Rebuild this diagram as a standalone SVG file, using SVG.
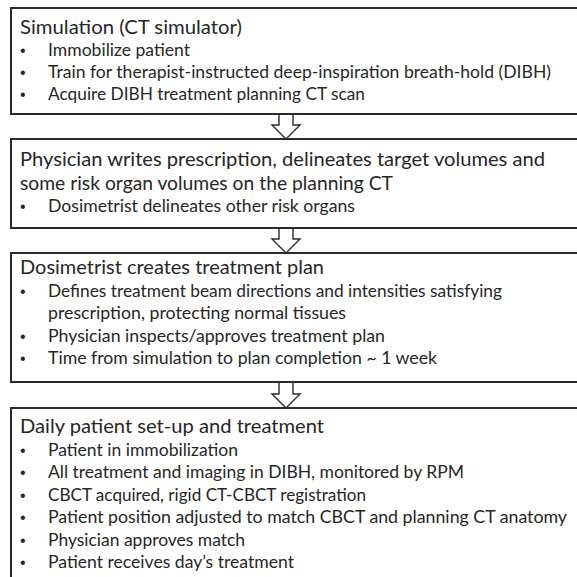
<svg xmlns="http://www.w3.org/2000/svg" width="577" height="577" viewBox="0 0 577 577">
<style>
.box{fill:#fff;stroke:#2b2b2b;stroke-width:2}
.arr{fill:#fff;stroke:#2b2b2b;stroke-width:1.4;stroke-linejoin:miter}
.h{font-family:Lato,"Liberation Sans",sans-serif;font-size:20px;fill:#262626}
.t{font-family:Lato,"Liberation Sans",sans-serif;font-size:17px;fill:#262626}
.b{font-family:"Liberation Sans",sans-serif;font-size:16px;fill:#262626}
</style>
<rect width="577" height="577" fill="#fff"/>
<g id="connectors">
<polygon class="arr" points="279,114 293,114 293,125 300,125 286,139 272,125 279,125"/>
<polygon class="arr" points="279,228 293,228 293,239 300,239 286,253 272,239 279,239"/>
<polygon class="arr" points="279,382 293,382 293,394 300,394 286,408 272,394 279,394"/>
</g>
<g id="simulation">
<rect class="box" x="11" y="8" width="580" height="106"/>
<text class="h" x="20" y="34" textLength="222" lengthAdjust="spacingAndGlyphs">Simulation (CT simulator)</text>
<text class="b" x="20" y="56">•</text><text class="t" x="48" y="56" textLength="142" lengthAdjust="spacingAndGlyphs">Immobilize patient</text>
<text class="b" x="20" y="78">•</text><text class="t" x="48" y="78" textLength="503" lengthAdjust="spacingAndGlyphs">Train for therapist-instructed deep-inspiration breath-hold (DIBH)</text>
<text class="b" x="20" y="100">•</text><text class="t" x="48" y="100" textLength="317" lengthAdjust="spacingAndGlyphs">Acquire DIBH treatment planning CT scan</text>
</g>
<g id="prescription">
<rect class="box" x="11" y="139" width="580" height="89"/>
<text class="h" x="20" y="166" textLength="525" lengthAdjust="spacingAndGlyphs">Physician writes prescription, delineates target volumes and</text>
<text class="h" x="20" y="190" textLength="373" lengthAdjust="spacingAndGlyphs">some risk organ volumes on the planning CT</text>
<text class="b" x="20" y="212">•</text><text class="t" x="48" y="212" textLength="307" lengthAdjust="spacingAndGlyphs">Dosimetrist delineates other risk organs</text>
</g>
<g id="plan">
<rect class="box" x="11" y="253" width="580" height="129"/>
<text class="h" x="20" y="274" textLength="304" lengthAdjust="spacingAndGlyphs">Dosimetrist creates treatment plan</text>
<text class="b" x="20" y="297">•</text><text class="t" x="48" y="297" textLength="454" lengthAdjust="spacingAndGlyphs">Defines treatment beam directions and intensities satisfying</text>
<text class="t" x="48" y="319" textLength="298" lengthAdjust="spacingAndGlyphs">prescription, protecting normal tissues</text>
<text class="b" x="20" y="342">•</text><text class="t" x="48" y="342" textLength="337" lengthAdjust="spacingAndGlyphs">Physician inspects/approves treatment plan</text>
<text class="b" x="20" y="364">•</text><text class="t" x="48" y="364" textLength="389" lengthAdjust="spacingAndGlyphs">Time from simulation to plan completion ~ 1 week</text>
</g>
<g id="daily">
<rect class="box" x="11" y="408" width="580" height="190"/>
<text class="h" x="20" y="433" textLength="304" lengthAdjust="spacingAndGlyphs">Daily patient set-up and treatment</text>
<text class="b" x="20" y="456">•</text><text class="t" x="48" y="456" textLength="190" lengthAdjust="spacingAndGlyphs">Patient in immobilization</text>
<text class="b" x="20" y="478">•</text><text class="t" x="48" y="478" textLength="416" lengthAdjust="spacingAndGlyphs">All treatment and imaging in DIBH, monitored by RPM</text>
<text class="b" x="20" y="501">•</text><text class="t" x="48" y="501" textLength="318" lengthAdjust="spacingAndGlyphs">CBCT acquired, rigid CT-CBCT registration</text>
<text class="b" x="20" y="523">•</text><text class="t" x="48" y="523" textLength="519" lengthAdjust="spacingAndGlyphs">Patient position adjusted to match CBCT and planning CT anatomy</text>
<text class="b" x="20" y="546">•</text><text class="t" x="48" y="546" textLength="197" lengthAdjust="spacingAndGlyphs">Physician approves match</text>
<text class="b" x="20" y="568">•</text><text class="t" x="48" y="568" textLength="246" lengthAdjust="spacingAndGlyphs">Patient receives day’s treatment</text>
</g>
</svg>
